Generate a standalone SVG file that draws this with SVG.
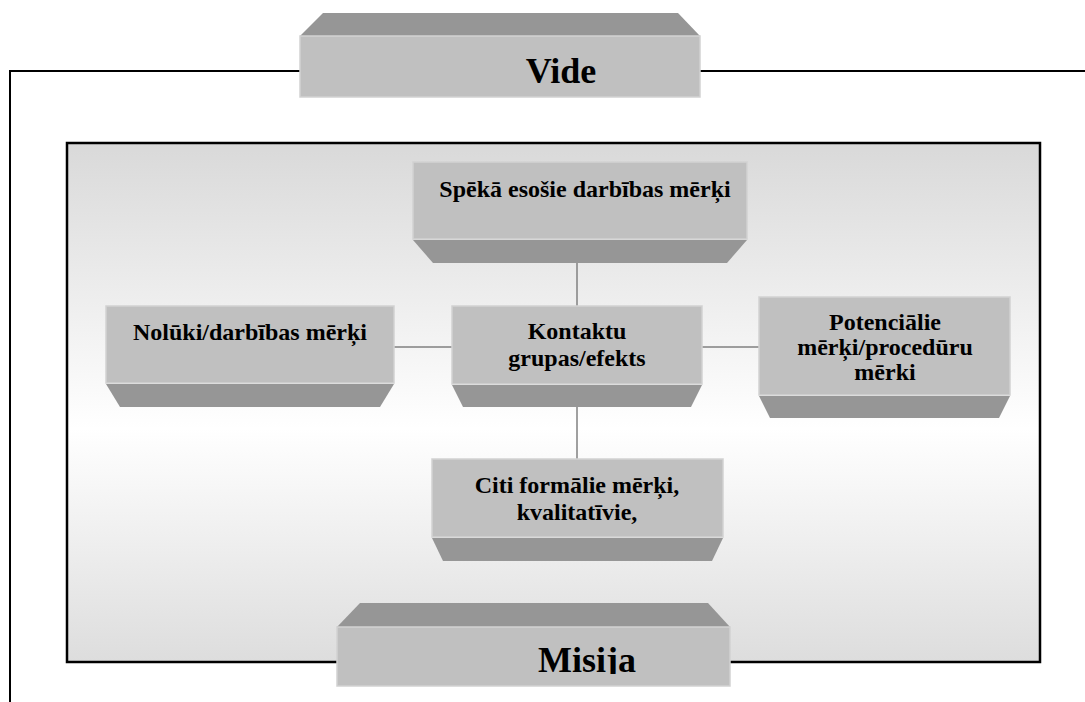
<svg xmlns="http://www.w3.org/2000/svg" width="1085" height="702" viewBox="0 0 1085 702">
<defs>
<linearGradient id="panelGrad" x1="0" y1="0" x2="0" y2="1">
<stop offset="0" stop-color="#d9d9d9"/>
<stop offset="0.55" stop-color="#ffffff"/>
<stop offset="1" stop-color="#dddddd"/>
</linearGradient>
<clipPath id="clipPot"><rect x="759" y="297" width="251" height="84"/></clipPath>
<clipPath id="clipMis"><rect x="337" y="627" width="393" height="47"/></clipPath>
</defs>
<style>
.front{fill:#c0c0c0;stroke:#d2d2d2;stroke-width:1.5}
.side{fill:#969696;stroke:none}
.lbl{font-family:"Liberation Serif","Times New Roman",serif;font-weight:bold;fill:#000;text-anchor:middle}
.conn{stroke:#808080;stroke-width:1.5;fill:none}
.frame{stroke:#000;stroke-width:2;fill:none}
</style>
<rect width="1085" height="702" fill="#ffffff"/>
<g id="outer-frame">
<polyline class="frame" points="1085,71 10,71 10,702"/>
</g>
<g id="panel">
<rect x="67" y="143" width="973" height="519" fill="url(#panelGrad)" stroke="#000" stroke-width="2.5"/>
</g>
<g id="connectors">
<line class="conn" x1="577" y1="250" x2="577" y2="306"/>
<line class="conn" x1="577" y1="400" x2="577" y2="459"/>
<line class="conn" x1="394" y1="347" x2="452" y2="347"/>
<line class="conn" x1="702" y1="347" x2="759" y2="347"/>
</g>
<g id="node-vide">
<polygon class="side" points="323,13 678,13 700,36 300,36"/>
<rect class="front" x="300" y="36" width="400" height="61"/>
<text class="lbl" x="561" y="83" font-size="36">Vide</text>
</g>
<g id="node-speka">
<rect class="front" x="413" y="162" width="334" height="77"/>
<polygon class="side" points="413,240 747,240 727,263 433,263"/>
<text class="lbl" x="585" y="197" font-size="24">Spēkā esošie darbības mērķi</text>
</g>
<g id="node-noluki">
<rect class="front" x="106" y="306" width="288" height="77"/>
<polygon class="side" points="106,384 394,384 380,407 120,407"/>
<text class="lbl" x="250" y="340" font-size="24">Nolūki/darbības mērķi</text>
</g>
<g id="node-kontaktu">
<rect class="front" x="452" y="306" width="250" height="78"/>
<polygon class="side" points="452,385 702,385 691,407 463,407"/>
<text class="lbl" x="577" y="339" font-size="24">Kontaktu</text>
<text class="lbl" x="577" y="366" font-size="24">grupas/efekts</text>
</g>
<g id="node-potencialie">
<rect class="front" x="759" y="297" width="251" height="98"/>
<polygon class="side" points="759,396 1010,396 999,418 770,418"/>
<g clip-path="url(#clipPot)">
<text class="lbl" x="885" y="330" font-size="24">Potenciālie</text>
<text class="lbl" x="885" y="355" font-size="24">mērķi/procedūru</text>
<text class="lbl" x="885" y="380" font-size="24">mērķi</text>
</g>
</g>
<g id="node-citi">
<rect class="front" x="432" y="459" width="291" height="78"/>
<polygon class="side" points="432,538 723,538 712,561 443,561"/>
<text class="lbl" x="577" y="493" font-size="24">Citi formālie mērķi,</text>
<text class="lbl" x="577" y="520" font-size="24">kvalitatīvie,</text>
</g>
<g id="node-misija">
<polygon class="side" points="360,603 708,603 730,627 337,627"/>
<rect class="front" x="337" y="627" width="393" height="59"/>
<g clip-path="url(#clipMis)">
<text class="lbl" x="587" y="672" font-size="36">Misija</text>
</g>
</g>
</svg>
